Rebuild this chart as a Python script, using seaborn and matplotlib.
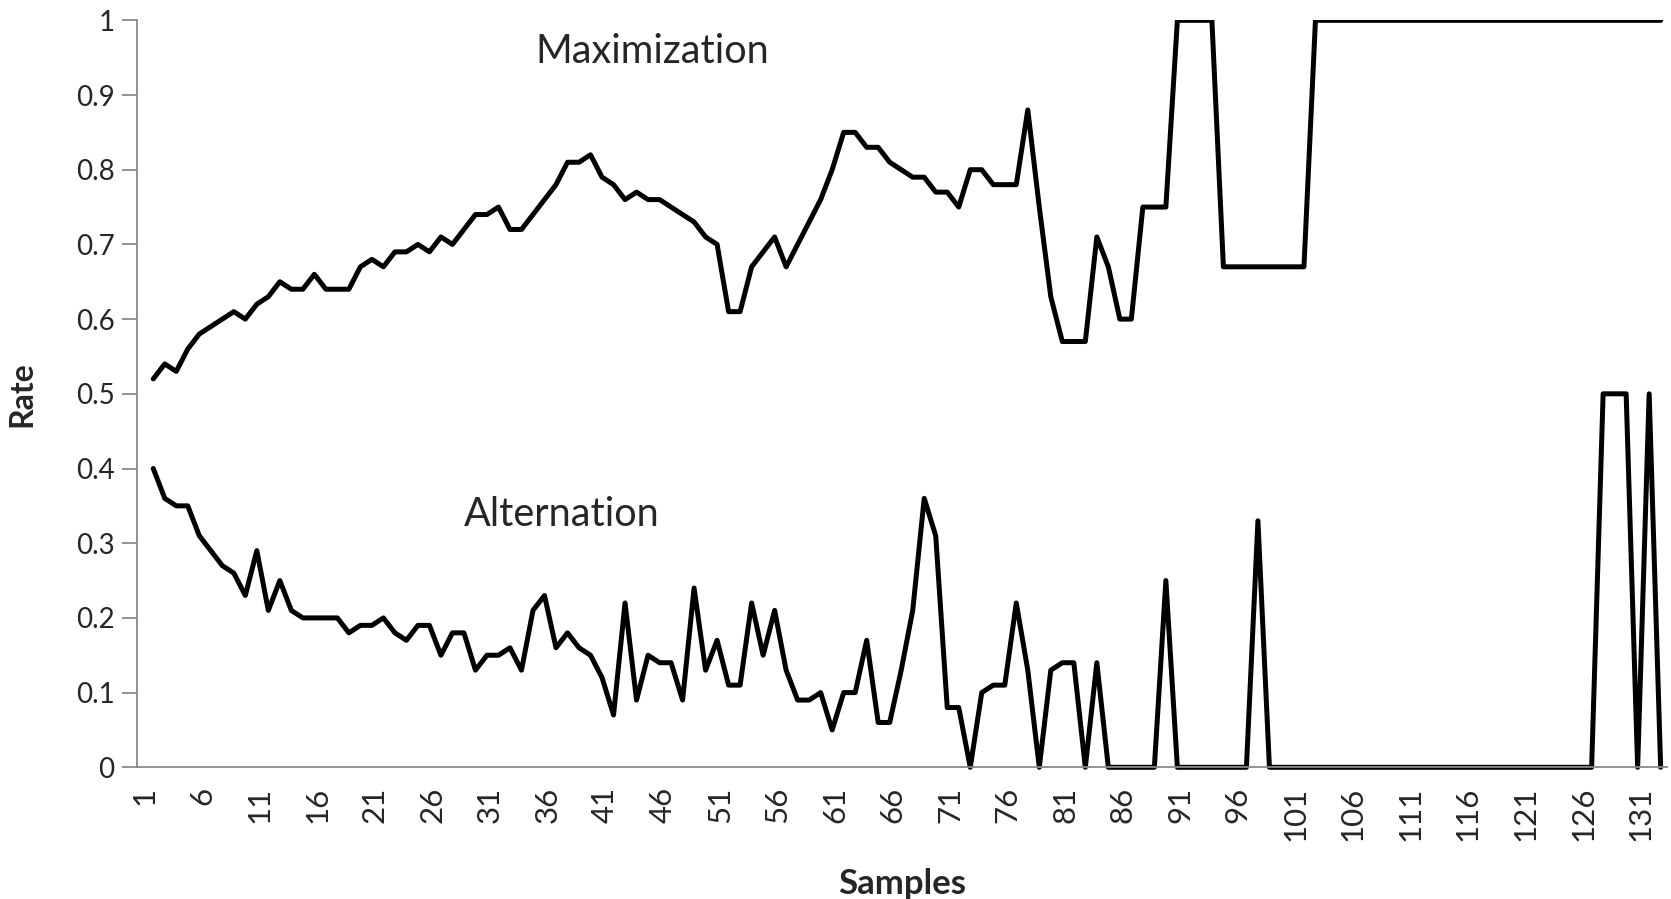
import matplotlib
matplotlib.use("Agg")
import matplotlib.pyplot as plt
import numpy as np
import pandas as pd
import seaborn as sns

# ---- data -------------------------------------------------------------
samples = list(range(1, 133))

maximization = [
    0.52, 0.54, 0.53, 0.56, 0.58, 0.59, 0.60, 0.61, 0.60, 0.62,
    0.63, 0.65, 0.64, 0.64, 0.66, 0.64, 0.64, 0.64, 0.67, 0.68,
    0.67, 0.69, 0.69, 0.70, 0.69, 0.71, 0.70, 0.72, 0.74, 0.74,
    0.75, 0.72, 0.72, 0.74, 0.76, 0.78, 0.81, 0.81, 0.82, 0.79,
    0.78, 0.76, 0.77, 0.76, 0.76, 0.75, 0.74, 0.73, 0.71, 0.70,
    0.61, 0.61, 0.67, 0.69, 0.71, 0.67, 0.70, 0.73, 0.76, 0.80,
    0.85, 0.85, 0.83, 0.83, 0.81, 0.80, 0.79, 0.79, 0.77, 0.77,
    0.75, 0.80, 0.80, 0.78, 0.78, 0.78, 0.88, 0.75, 0.63, 0.57,
    0.57, 0.57, 0.71, 0.67, 0.60, 0.60, 0.75, 0.75, 0.75, 1.00,
    1.00, 1.00, 1.00, 0.67, 0.67, 0.67, 0.67, 0.67, 0.67, 0.67,
    0.67, 1.00, 1.00, 1.00, 1.00, 1.00, 1.00, 1.00, 1.00, 1.00,
    1.00, 1.00, 1.00, 1.00, 1.00, 1.00, 1.00, 1.00, 1.00, 1.00,
    1.00, 1.00, 1.00, 1.00, 1.00, 1.00, 1.00, 1.00, 1.00, 1.00,
    1.00, 1.00,
]

alternation = [
    0.40, 0.36, 0.35, 0.35, 0.31, 0.29, 0.27, 0.26, 0.23, 0.29,
    0.21, 0.25, 0.21, 0.20, 0.20, 0.20, 0.20, 0.18, 0.19, 0.19,
    0.20, 0.18, 0.17, 0.19, 0.19, 0.15, 0.18, 0.18, 0.13, 0.15,
    0.15, 0.16, 0.13, 0.21, 0.23, 0.16, 0.18, 0.16, 0.15, 0.12,
    0.07, 0.22, 0.09, 0.15, 0.14, 0.14, 0.09, 0.24, 0.13, 0.17,
    0.11, 0.11, 0.22, 0.15, 0.21, 0.13, 0.09, 0.09, 0.10, 0.05,
    0.10, 0.10, 0.17, 0.06, 0.06, 0.13, 0.21, 0.36, 0.31, 0.08,
    0.08, 0.00, 0.10, 0.11, 0.11, 0.22, 0.13, 0.00, 0.13, 0.14,
    0.14, 0.00, 0.14, 0.00, 0.00, 0.00, 0.00, 0.00, 0.25, 0.00,
    0.00, 0.00, 0.00, 0.00, 0.00, 0.00, 0.33, 0.00, 0.00, 0.00,
    0.00, 0.00, 0.00, 0.00, 0.00, 0.00, 0.00, 0.00, 0.00, 0.00,
    0.00, 0.00, 0.00, 0.00, 0.00, 0.00, 0.00, 0.00, 0.00, 0.00,
    0.00, 0.00, 0.00, 0.00, 0.00, 0.00, 0.50, 0.50, 0.50, 0.00,
    0.50, 0.00,
]

x_ticks = list(range(1, 133, 5))
x_tick_labels = [str(v) for v in x_ticks]
y_ticks = [0, 0.1, 0.2, 0.3, 0.4, 0.5, 0.6, 0.7, 0.8, 0.9, 1.0]
y_tick_labels = ["0", "0.1", "0.2", "0.3", "0.4", "0.5", "0.6", "0.7", "0.8", "0.9", "1"]

# ---- style ------------------------------------------------------------
sns.set_style("white")
plt.rcParams["font.family"] = ["Lato", "DejaVu Sans"]
axis_grey = "#898989"

fig = plt.figure(figsize=(16.71, 8.99), dpi=100)
ax = fig.add_axes([0.0818, 0.1465, 0.9158, 0.8309])

df = pd.DataFrame({"Samples": samples, "Maximization": maximization,
                   "Alternation": alternation})

line_kw = dict(color="black", linewidth=3.6, solid_joinstyle="round",
               solid_capstyle="round")
sns.lineplot(data=df, x="Samples", y="Maximization", ax=ax, **line_kw)
sns.lineplot(data=df, x="Samples", y="Alternation", ax=ax, **line_kw)
# the rate-0 series is allowed to spill below the plot floor
ax.lines[1].set_clip_on(False)

ax.set_xlim(-0.44, 132.55)
ax.set_ylim(0, 1)

ax.set_yticks(y_ticks)
ax.set_yticklabels(y_tick_labels, fontsize=20)
# category labels sit a little left of their sample, as in spreadsheet charts
label_shift = 0.75
ax.set_xticks([t - label_shift for t in x_ticks])
ax.set_xticklabels(x_tick_labels, fontsize=22.5, rotation=90)

ax.tick_params(axis="y", direction="out", length=11, width=1.3,
               color=axis_grey, pad=5, left=True)
ax.tick_params(axis="x", length=0, pad=14)

for side in ("top", "right"):
    ax.spines[side].set_visible(False)
for side in ("left", "bottom"):
    ax.spines[side].set_color(axis_grey)
    ax.spines[side].set_linewidth(1.3)

ax.set_xlabel("Samples", fontsize=25, fontweight="bold", labelpad=19)
ax.set_ylabel("Rate", fontsize=23, fontweight="bold", labelpad=28)

ax.text(44.4, 0.958, "Maximization", ha="center", va="center", fontsize=28.5)
ax.text(36.5, 0.339, "Alternation", ha="center", va="center", fontsize=28.5)

fig.savefig("out.png", dpi=100)
